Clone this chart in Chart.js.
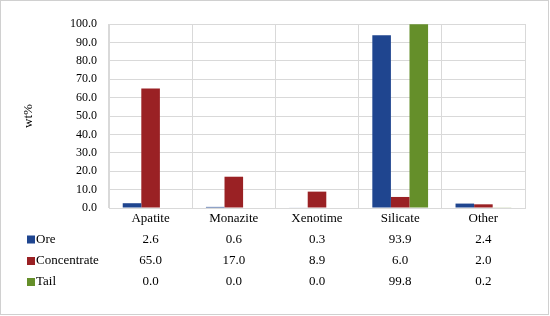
<!DOCTYPE html>
<html>
<head>
<meta charset="utf-8">
<script src="https://cdn.jsdelivr.net/npm/chart.js@4/dist/chart.umd.min.js"></script>
<style>
html,body{margin:0;padding:0;background:#fff;}
canvas{display:block;}
</style>
</head>
<body>
<canvas id="c" width="550" height="316"></canvas>
<script>
const categories = ["Apatite", "Monazite", "Xenotime", "Silicate", "Other"];
const oreValues = [2.6, 0.6, 0.3, 93.9, 2.4];
const concentrateValues = [65.0, 17.0, 8.9, 6.0, 2.0];
const tailValues = [0.0, 0.0, 0.0, 99.8, 0.2];
const seriesNames = ["Ore", "Concentrate", "Tail"];
const seriesColors = ["#1F458F", "#9A2124", "#658F2A"];
const yTitle = "wt%";

const FONT = "'Liberation Serif', 'Times New Roman', serif";
const GRID = "#d9d9d9";

const tablePlugin = {
  id: 'dataTable',
  afterDraw(chart) {
    const ctx = chart.ctx;
    const xs = chart.scales.x;
    ctx.save();
    ctx.strokeStyle = "#d0d0d0";
    ctx.lineWidth = 1;
    ctx.strokeRect(0.5, 0.5, 548, 314);
    const rowY = [239.5, 261, 282];
    ctx.font = "13px " + FONT;
    ctx.textBaseline = "middle";
    chart.data.datasets.forEach((ds, r) => {
      const y = rowY[r];
      ctx.fillStyle = ds.backgroundColor;
      ctx.fillRect(27, y - 4, 8, 8);
      ctx.fillStyle = "#000";
      ctx.textAlign = "left";
      ctx.fillText(ds.label, 36, y);
      ctx.textAlign = "center";
      ds.data.forEach((v, i) => {
        ctx.fillText(v.toFixed(1), xs.getPixelForValue(i), y);
      });
    });
    ctx.restore();
  }
};

new Chart(document.getElementById('c'), {
  type: 'bar',
  data: {
    labels: categories,
    datasets: [
      { label: seriesNames[0], data: oreValues, backgroundColor: seriesColors[0] },
      { label: seriesNames[1], data: concentrateValues, backgroundColor: seriesColors[1] },
      { label: seriesNames[2], data: tailValues, backgroundColor: seriesColors[2] }
    ]
  },
  options: {
    responsive: false,
    animation: false,
    devicePixelRatio: 1,
    layout: { padding: { left: 0, top: 24, right: 25, bottom: 88 } },
    datasets: { bar: { barPercentage: 1.0, categoryPercentage: 0.67 } },
    plugins: { legend: { display: false }, tooltip: { enabled: false } },
    scales: {
      x: {
        grid: { color: GRID, offset: true, drawTicks: false, lineWidth: 1 },
        border: { color: GRID },
        ticks: { color: "#000", font: { family: FONT, size: 13 }, padding: 3, maxRotation: 0 },
        afterFit(scale) { scale.height = 20; }
      },
      y: {
        min: 0, max: 100,
        grid: { color: GRID, drawTicks: false },
        border: { color: GRID },
        ticks: {
          stepSize: 10, color: "#000", padding: 12,
          font: { family: FONT, size: 12 },
          callback: (v) => Number(v).toFixed(1)
        },
        title: {
          display: true, text: yTitle, color: "#000",
          font: { family: FONT, size: 13 },
          padding: { top: 21, bottom: 0 }
        },
        afterFit(scale) { scale.width = 109; }
      }
    }
  },
  plugins: [tablePlugin]
});
</script>
</body>
</html>
